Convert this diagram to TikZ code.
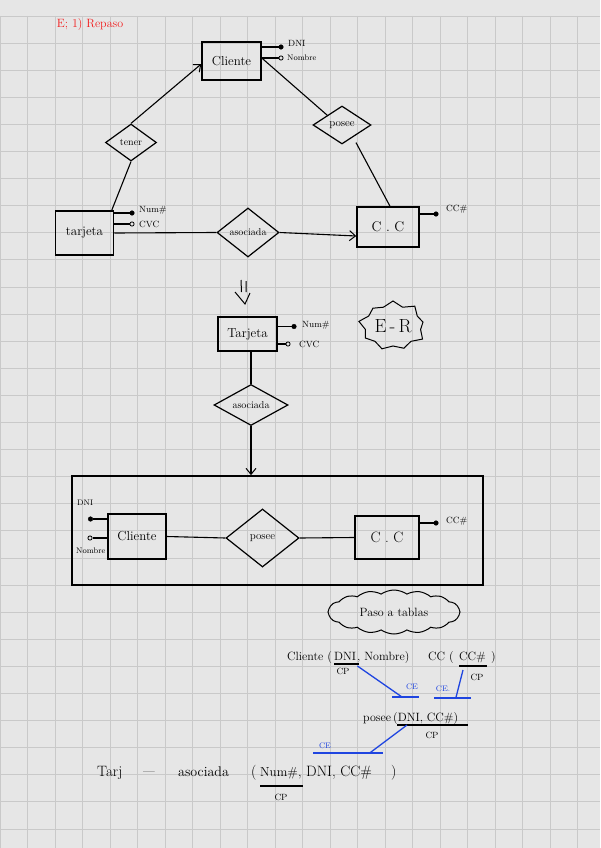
\documentclass[tikz,border=0pt]{standalone}
\usetikzlibrary{shapes.geometric,shapes.symbols,arrows.meta,calc}
\definecolor{paper}{HTML}{E6E6E6}
\definecolor{gridc}{HTML}{C9C9C9}
\definecolor{redpen}{HTML}{F21C1C}
\definecolor{bluepen}{HTML}{1F45E0}
\newcommand{\fsz}[1]{\fontsize{#1}{#1}\selectfont}
\begin{document}
\begin{tikzpicture}[x=1pt,y=-1pt,
  ent/.style={draw,rectangle,line width=1.5pt,inner sep=0pt},
  rel/.style={draw,diamond,line width=1.2pt,inner sep=0pt},
  conn/.style={line width=1.1pt},
  fdot/.style={circle,fill=black,draw=black,inner sep=0pt,minimum size=4.6pt},
  odot/.style={circle,draw=black,line width=0.8pt,fill=paper,inner sep=0pt,minimum size=4.2pt},
  attr/.style={font=\fsz{9},inner sep=0pt,anchor=west},
  arr/.style={-{Straight Barb[length=6pt,width=10pt,line width=1pt]}},
  tab/.style={font=\fsz{12},inner sep=0pt,anchor=base west},
  cp/.style={font=\fsz{9},inner sep=0pt},
  ce/.style={font=\fsz{8},text=bluepen,inner sep=0pt},
  blu/.style={draw=bluepen,line width=1.3pt},
  uline/.style={line width=1.1pt},
]
\useasboundingbox (0,0) rectangle (600,848);
\fill[paper] (0,0) rectangle (600,848);
\foreach \i in {0,...,21} \draw[gridc,line width=0.9pt] (\i*27.5,16) -- (\i*27.5,848);
\foreach \j in {0,...,30} \draw[gridc,line width=0.9pt] (0,16+\j*27.1) -- (600,16+\j*27.1);

% title
\node[font=\fsz{12},text=redpen] (title) at (90,25) {E; 1) Repaso};

% ---------- top diagram ----------
\node[ent,minimum width=59pt,minimum height=38pt,font=\fsz{13}] (cli) at (231.5,61) {Cliente};
\node[rel,minimum width=51pt,minimum height=37pt,label={[font=\fsz{10}]center:tener}] (ten) at (131,142.5) {};
\node[rel,minimum width=58pt,minimum height=38pt,label={[font=\fsz{11}]center:posee}] (pos) at (342,125) {};
\node[ent,minimum width=58pt,minimum height=44pt,font=\fsz{13}] (tar) at (84.5,233) {tarjeta};
\node[rel,minimum width=62pt,minimum height=49pt,label={[font=\fsz{10}]center:asociada}] (aso) at (248,232.5) {};
\node[ent,minimum width=62pt,minimum height=40pt,font=\fsz{14}] (cc) at (388,227) {C . C};

\node[fdot] (cdni) at (281,47) {};
\node[attr] at (288,43) {DNI};
\draw[conn] (cdni -| cli.east) -- (cdni);
\node[odot] (cnom) at (281,58) {};
\node[attr,font=\fsz{8}] at (287,58) {Nombre};
\draw[conn] (cnom -| cli.east) -- (cnom);

\node[fdot] (tnum) at (132,213) {};
\node[attr] at (139,210) {Num\#};
\draw[conn] (tnum -| tar.east) -- (tnum);
\node[odot] (tcvc) at (132,224) {};
\node[attr] at (139,224) {CVC};
\draw[conn] (tcvc -| tar.east) -- (tcvc);
\node[fdot] (ccn) at (436,214) {};
\node[attr] at (446,209) {CC\#};
\draw[conn] (ccn -| cc.east) -- (ccn);

\draw[conn,arr] (ten.north) -- ([yshift=-3pt]cli.west);
\draw[conn] (ten.south) -- ([xshift=-2.5pt]tar.north east);
\draw[conn] ([yshift=3pt]cli.east) -- ($(pos.north)!0.5!(pos.west)$);
\draw[conn] ([xshift=14pt,yshift=2pt]pos.south) -- ([xshift=2pt]cc.north);
\draw[conn] (tar.east) -- (aso.west);
\draw[conn,arr] (aso.east) -- ([yshift=-9pt]cc.west);

% ---------- middle ----------
\draw[line width=1pt] (241,280) -- (241.5,292) (246,281) -- (246,292);
\draw[line width=1pt] (235,292) -- (245,304) -- (250,293);

\node[ent,minimum width=59pt,minimum height=34pt,font=\fsz{13}] (tar2) at (247.5,334) {Tarjeta};
\node[fdot] (t2num) at (294,326.5) {};
\node[attr] at (302,325) {Num\#};
\draw[conn] (t2num -| tar2.east) -- (t2num);
\node[odot] (t2cvc) at (288,344) {};
\node[attr] at (299,344) {CVC};
\draw[conn] (t2cvc -| tar2.east) -- (t2cvc);
\node[starburst,draw,line width=1pt,starburst points=9,starburst point height=7pt,minimum width=70pt,minimum height=54pt,font=\fsz{19},inner sep=0pt] (er) at (393,326) {E\,-\,R};

\node[rel,minimum width=74pt,minimum height=41pt,label={[font=\fsz{10}]center:asociada}] (aso2) at (251,405) {};
\draw[conn] (aso2.north |- tar2.south) -- (aso2.north);

% ---------- bottom diagram ----------
\node[draw,rectangle,line width=1.8pt,minimum width=411pt,minimum height=109pt,inner sep=0pt] (big) at (277.5,530.5) {};
\draw[conn,arr] (aso2.south) -- (aso2.south |- big.north);

\node[ent,minimum width=58pt,minimum height=45pt,font=\fsz{13}] (cli3) at (137,536.5) {Cliente};
\node[rel,minimum width=73pt,minimum height=58pt,label={[font=\fsz{11}]center:posee}] (pos3) at (262.5,538) {};
\node[ent,minimum width=64pt,minimum height=43pt,font=\fsz{15}] (cc3) at (387,537.5) {C . C};
\draw[conn] (cli3.east) -- (pos3.west);
\draw[conn] (pos3.east) -- (cc3.west);
\node[fdot] (bdni) at (90.5,519) {};
\node[attr,font=\fsz{8}] at (77,503) {DNI};
\draw[conn] (bdni) -- (bdni -| cli3.west);
\node[odot] (bnom) at (90,538) {};
\node[attr,font=\fsz{8}] at (76,551) {Nombre};
\draw[conn] (bnom) -- (bnom -| cli3.west);
\node[fdot] (bcc) at (436,523) {};
\node[attr] at (446,521.5) {CC\#};
\draw[conn] (bcc -| cc3.east) -- (bcc);

% ---------- tables ----------
\node[cloud,draw,line width=1pt,cloud puffs=16,cloud puff arc=70,aspect=3.4,minimum width=132pt,minimum height=44pt,font=\fsz{12},inner sep=0pt] (paso) at (394,612) {Paso a tablas};

\node[tab] (r1a) at (287,660) {Cliente (};
\node[tab] (r1b) at (334,660) {DNI};
\node[tab] (r1c) at (357,660) {, Nombre)};
\draw[uline] ([yshift=-4pt]r1b.base west) -- ([xshift=3pt,yshift=-4pt]r1b.base east);
\node[cp] (cp1) at (343,671) {CP};

\node[tab] (r1d) at (428,660) {CC (};
\node[tab] (r1e) at (459,660) {CC\#};
\node[tab] (r1f) at (491,660) {)};
\draw[uline] ([yshift=-6pt]r1e.base west) -- ([xshift=1pt,yshift=-6pt]r1e.base east);
\node[cp] (cp2) at (477,677) {CP};

\node[tab] (r2a) at (363,721) {posee};
\node[tab] (r2b) at (393,721) {(DNI, CC\#)};
\draw[uline] ([xshift=4pt,yshift=-4pt]r2b.base west) -- ([xshift=9pt,yshift=-4pt]r2b.base east);
\node[cp] (cp3) at (432,735) {CP};

\node[tab,font=\fsz{15}] (r3a) at (97,776) {Tarj};
\node[tab,font=\fsz{12}] (r3b) at (143,775) {---};
\node[tab,font=\fsz{14}] (r3c) at (178,776) {asociada};
\node[tab,font=\fsz{15}] (r3d) at (251,776) {(};
\node[tab,font=\fsz{13}] (r3e) at (260,776) {Num\#,};
\node[tab,font=\fsz{15}] (r3f) at (306,776) {DNI, CC\#};
\node[tab,font=\fsz{15}] (r3g) at (391,776) {)};
\draw[uline] ([yshift=-10pt]r3e.base west) -- ([xshift=1pt,yshift=-10pt]r3e.base east);
\node[cp] (cp4) at (281,797) {CP};

% ---------- blue CE marks ----------
\coordinate (ce1l) at (392,697);
\coordinate (ce1r) at (419,697);
\draw[blu] (ce1l) -- (ce1r);
\node[ce] (ce1) at (412,687) {CE};
\draw[blu] ([xshift=1pt,yshift=-6pt]r1b.base east) -- ($(ce1l)!0.37!(ce1r)$);

\coordinate (ce2l) at (434,698);
\coordinate (ce2r) at (471,698);
\draw[blu] (ce2l) -- (ce2r);
\node[ce] (ce2) at (443,689) {CE.};
\draw[blu] ($(ce2l)!0.59!(ce2r)$) -- ([xshift=4pt,yshift=-10pt]r1e.base west);

\coordinate (ce3l) at (313,753);
\coordinate (ce3r) at (383,753);
\draw[blu] (ce3l) -- (ce3r);
\node[ce] (ce3) at (325,746) {CE};
\draw[blu] ($(ce3l)!0.81!(ce3r)$) -- ([xshift=14pt,yshift=-4pt]r2b.base west);
\end{tikzpicture}
\end{document}
